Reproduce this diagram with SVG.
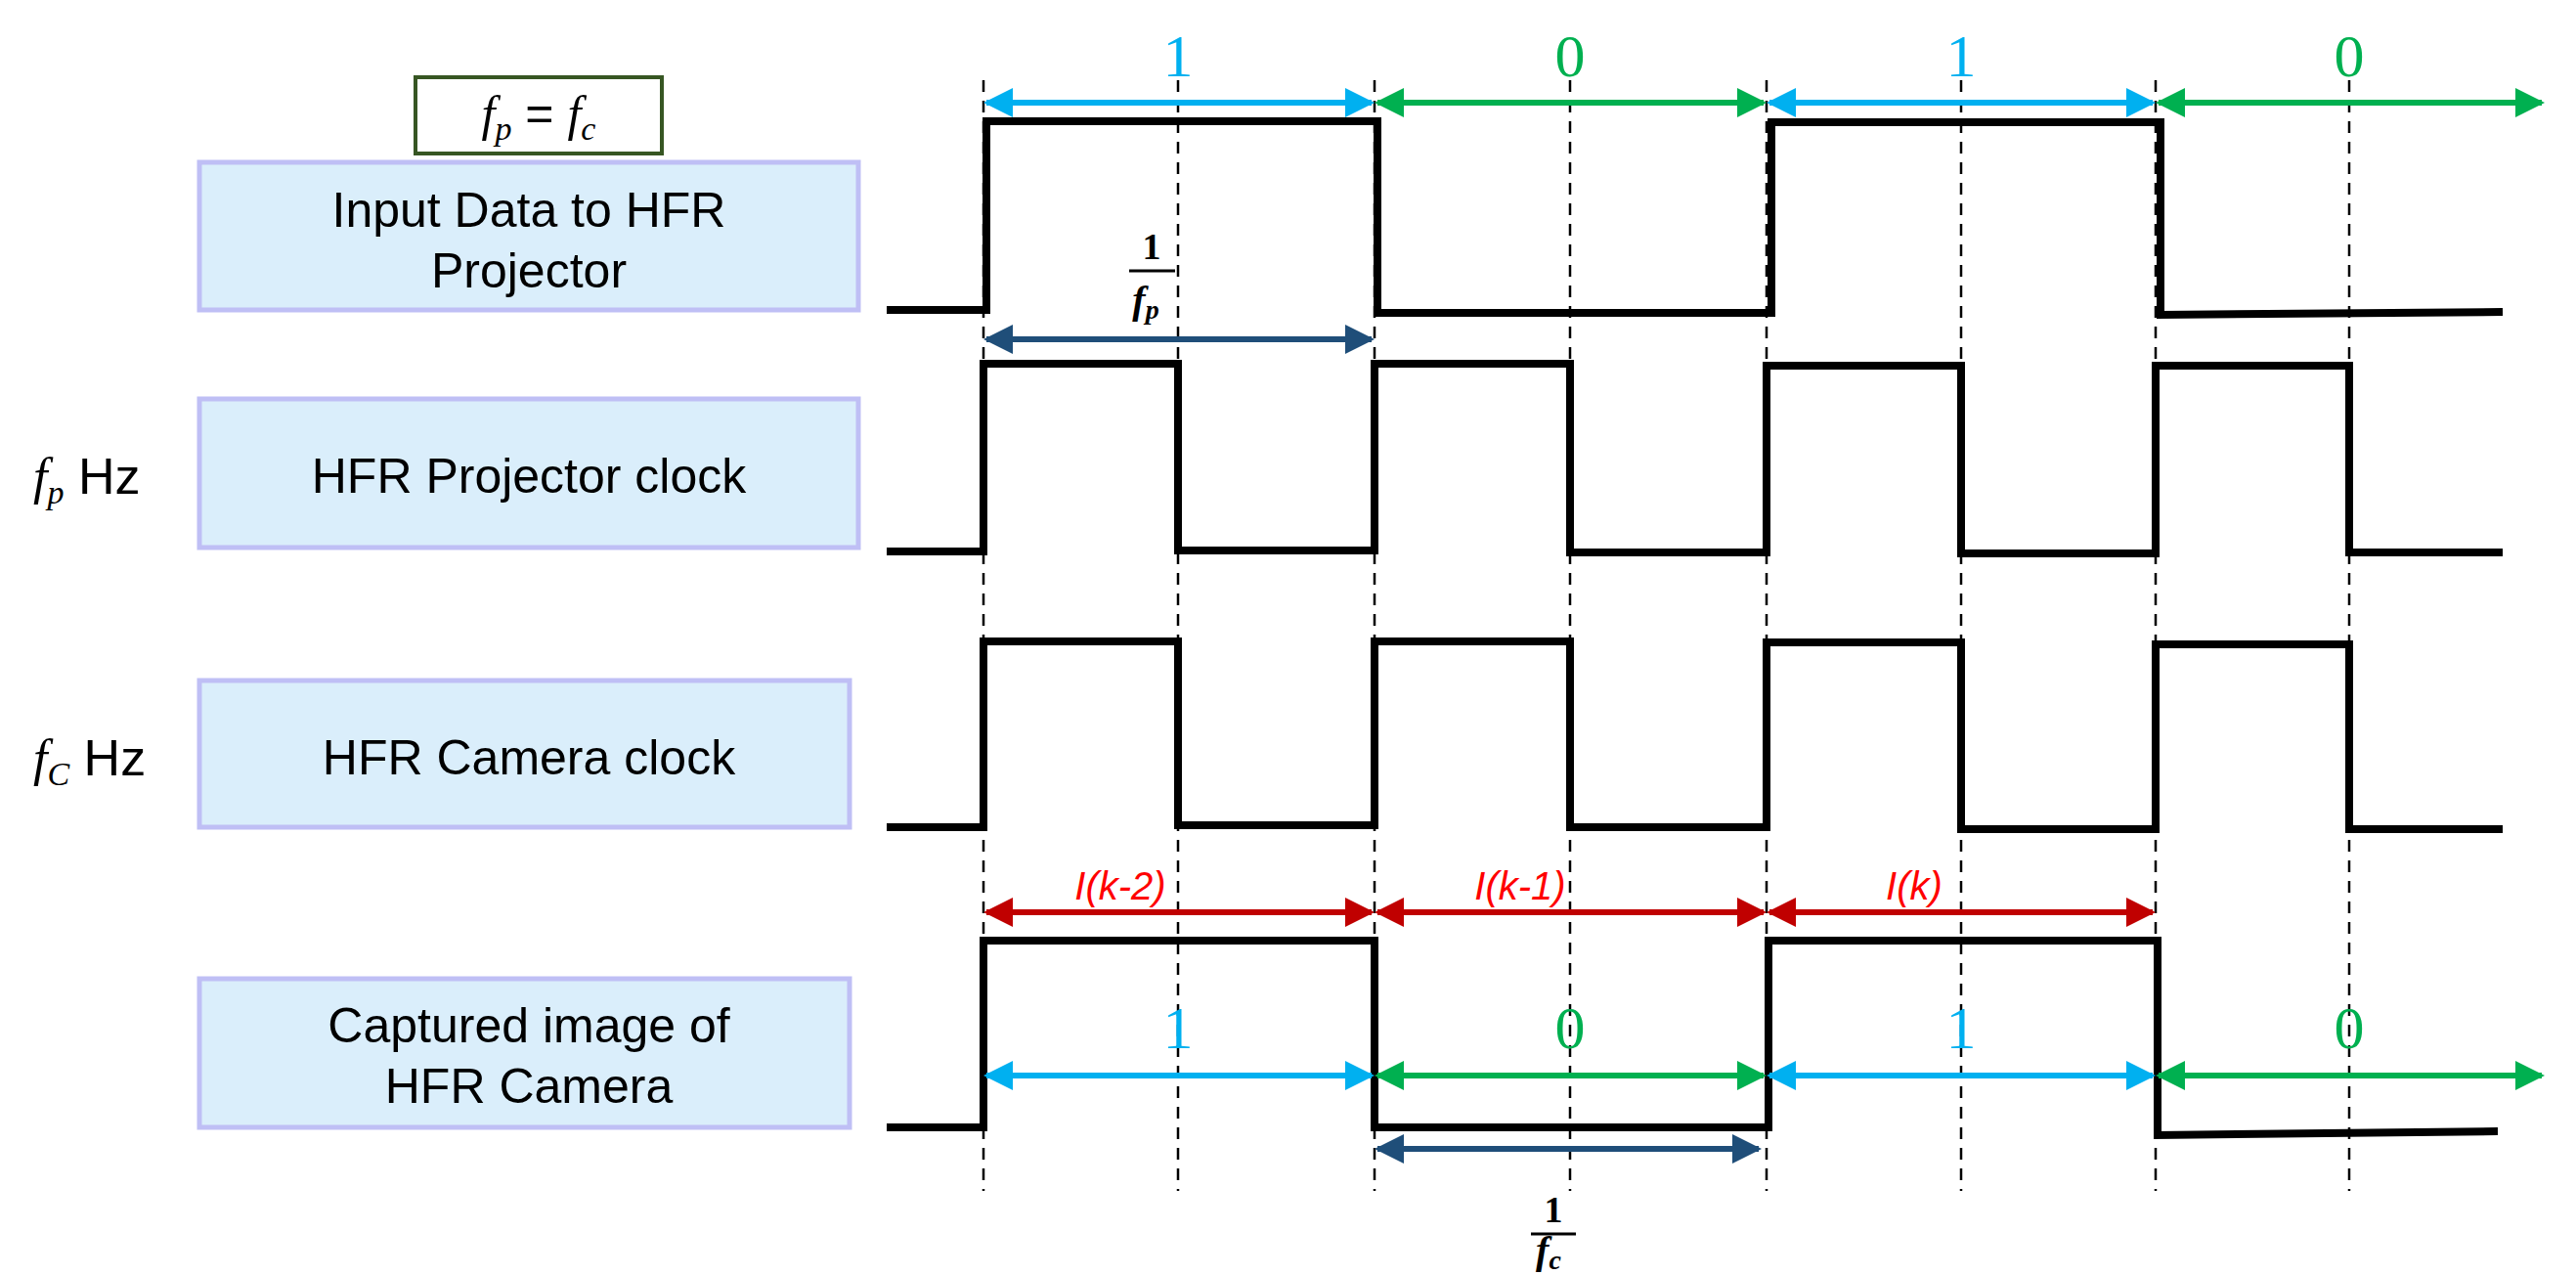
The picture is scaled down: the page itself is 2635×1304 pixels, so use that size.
<svg xmlns="http://www.w3.org/2000/svg" width="2635" height="1304" viewBox="0 0 2635 1304">
<style>
.lbl{fill:#DAEEFB;stroke:#BFBFF5;stroke-width:5}
.t{font-family:"Liberation Sans",Arial,sans-serif;font-size:50px;fill:#000;text-anchor:middle}
.m{font-family:"Liberation Serif","DejaVu Serif",serif;font-style:italic}
.w{fill:none;stroke:#000;stroke-width:8;stroke-linejoin:miter}
.d{stroke:#000;stroke-width:2.5;stroke-dasharray:12,9}
.cy{stroke:#00B0F0;stroke-width:6}
.gr{stroke:#00B050;stroke-width:6}
.rd{stroke:#C00000;stroke-width:6}
.db{stroke:#1F4E79;stroke-width:6}
.num{font-family:"Liberation Serif",serif;font-size:62px;text-anchor:middle}
.ik{font-family:"Liberation Sans",sans-serif;font-style:italic;font-size:40px;fill:#FF0000;text-anchor:middle}
</style>
<defs>
<marker id="ac" viewBox="0 0 10 10" refX="9" refY="5" markerWidth="5" markerHeight="5" orient="auto-start-reverse" markerUnits="strokeWidth"><path d="M0,0L10,5L0,10z" fill="#00B0F0"/></marker>
<marker id="ag" viewBox="0 0 10 10" refX="9" refY="5" markerWidth="5" markerHeight="5" orient="auto-start-reverse" markerUnits="strokeWidth"><path d="M0,0L10,5L0,10z" fill="#00B050"/></marker>
<marker id="ar" viewBox="0 0 10 10" refX="9" refY="5" markerWidth="5" markerHeight="5" orient="auto-start-reverse" markerUnits="strokeWidth"><path d="M0,0L10,5L0,10z" fill="#C00000"/></marker>
<marker id="ab" viewBox="0 0 10 10" refX="9" refY="5" markerWidth="5" markerHeight="5" orient="auto-start-reverse" markerUnits="strokeWidth"><path d="M0,0L10,5L0,10z" fill="#1F4E79"/></marker>
</defs>
<rect width="2635" height="1304" fill="#fff"/>

<g id="eq">
<rect x="425" y="79" width="252" height="78" fill="#fff" stroke="#375623" stroke-width="4"/>
<text x="551" y="133" class="m" font-size="50" text-anchor="middle">f<tspan font-size="34" dy="10">p</tspan><tspan dy="-10" font-style="normal" font-family="Liberation Sans,sans-serif"> = </tspan>f<tspan font-size="34" dy="10">c</tspan></text>
</g>

<g id="n1"><rect class="lbl" x="204" y="166" width="674" height="151"/>
<text class="t" x="541" y="232">Input Data to HFR</text><text class="t" x="541" y="294">Projector</text></g>
<g id="n2"><rect class="lbl" x="204" y="408" width="674" height="152"/>
<text class="t" x="541" y="504">HFR Projector clock</text>
<text x="34" y="505" font-size="52" class="m">f<tspan font-size="34" dy="10">p</tspan><tspan dy="-10" font-style="normal" font-family="Liberation Sans,sans-serif"> Hz</tspan></text></g>
<g id="n3"><rect class="lbl" x="204" y="696" width="665" height="150"/>
<text class="t" x="541" y="792">HFR Camera clock</text>
<text x="34" y="793" font-size="52" class="m">f<tspan font-size="34" dy="10">C</tspan><tspan dy="-10" font-style="normal" font-family="Liberation Sans,sans-serif"> Hz</tspan></text></g>
<g id="n4"><rect class="lbl" x="204" y="1001" width="665" height="152"/>
<text class="t" x="541" y="1066">Captured image of</text><text class="t" x="541" y="1128">HFR Camera</text></g>

<g id="dashes">
<line class="d" x1="1006" y1="82" x2="1006" y2="1218"/>
<line class="d" x1="1205" y1="82" x2="1205" y2="1218"/>
<line class="d" x1="1406" y1="82" x2="1406" y2="1218"/>
<line class="d" x1="1606" y1="82" x2="1606" y2="1218"/>
<line class="d" x1="1807" y1="82" x2="1807" y2="1218"/>
<line class="d" x1="2006" y1="82" x2="2006" y2="1218"/>
<line class="d" x1="2205" y1="82" x2="2205" y2="1218"/>
<line class="d" x1="2403" y1="82" x2="2403" y2="1218"/>
</g>

<g id="waves">
<path class="w" d="M907,317H1009V124H1409V320H1812V125H2210V322L2560,319"/>
<path class="w" d="M907,564H1006V372H1205V563H1406V372H1606V565H1807V374H2006V566H2205V374H2403V565H2560"/>
<path class="w" d="M907,846H1006V656H1205V844H1406V656H1606V846H1807V657H2006V848H2205V659H2403V848H2560"/>
<path class="w" d="M907,1153H1006V962H1406V1153H1809V962H2207V1161L2555,1157"/>
</g>

<g id="connectors">
<line class="cy" x1="1009" y1="105" x2="1403" y2="105" marker-start="url(#ac)" marker-end="url(#ac)"/>
<line class="gr" x1="1409" y1="105" x2="1804" y2="105" marker-start="url(#ag)" marker-end="url(#ag)"/>
<line class="cy" x1="1810" y1="105" x2="2202" y2="105" marker-start="url(#ac)" marker-end="url(#ac)"/>
<line class="gr" x1="2208" y1="105" x2="2600" y2="105" marker-start="url(#ag)" marker-end="url(#ag)"/>
<line class="db" x1="1009" y1="347" x2="1403" y2="347" marker-start="url(#ab)" marker-end="url(#ab)"/>
<line class="rd" x1="1009" y1="933" x2="1403" y2="933" marker-start="url(#ar)" marker-end="url(#ar)"/>
<line class="rd" x1="1409" y1="933" x2="1804" y2="933" marker-start="url(#ar)" marker-end="url(#ar)"/>
<line class="rd" x1="1810" y1="933" x2="2202" y2="933" marker-start="url(#ar)" marker-end="url(#ar)"/>
<line class="cy" x1="1009" y1="1100" x2="1403" y2="1100" marker-start="url(#ac)" marker-end="url(#ac)"/>
<line class="gr" x1="1409" y1="1100" x2="1804" y2="1100" marker-start="url(#ag)" marker-end="url(#ag)"/>
<line class="cy" x1="1810" y1="1100" x2="2202" y2="1100" marker-start="url(#ac)" marker-end="url(#ac)"/>
<line class="gr" x1="2208" y1="1100" x2="2600" y2="1100" marker-start="url(#ag)" marker-end="url(#ag)"/>
<line class="db" x1="1409" y1="1175" x2="1799" y2="1175" marker-start="url(#ab)" marker-end="url(#ab)"/>
</g>

<g id="labels">
<text class="num" x="1205" y="78" fill="#00B0F0">1</text>
<text class="num" x="1606" y="78" fill="#00B050">0</text>
<text class="num" x="2006" y="78" fill="#00B0F0">1</text>
<text class="num" x="2403" y="78" fill="#00B050">0</text>
<text class="num" x="1205" y="1072" fill="#00B0F0">1</text>
<text class="num" x="1606" y="1072" fill="#00B050">0</text>
<text class="num" x="2006" y="1072" fill="#00B0F0">1</text>
<text class="num" x="2403" y="1072" fill="#00B050">0</text>
<text class="ik" x="1146" y="920">I(k-2)</text>
<text class="ik" x="1555" y="920">I(k-1)</text>
<text class="ik" x="1958" y="920">I(k)</text>
<text x="1178" y="265" font-family="Liberation Serif,serif" font-weight="bold" font-size="38" text-anchor="middle">1</text>
<line x1="1155" y1="277" x2="1202" y2="277" stroke="#000" stroke-width="3"/>
<text x="1172" y="320" class="m" font-weight="bold" font-size="40" text-anchor="middle">f<tspan font-size="28" dy="6">p</tspan></text>
<text x="1589" y="1250" font-family="Liberation Serif,serif" font-weight="bold" font-size="38" text-anchor="middle">1</text>
<line x1="1566" y1="1262" x2="1612" y2="1262" stroke="#000" stroke-width="3"/>
<text x="1584" y="1292" class="m" font-weight="bold" font-size="40" text-anchor="middle">f<tspan font-size="28" dy="6">c</tspan></text>
</g>
</svg>
